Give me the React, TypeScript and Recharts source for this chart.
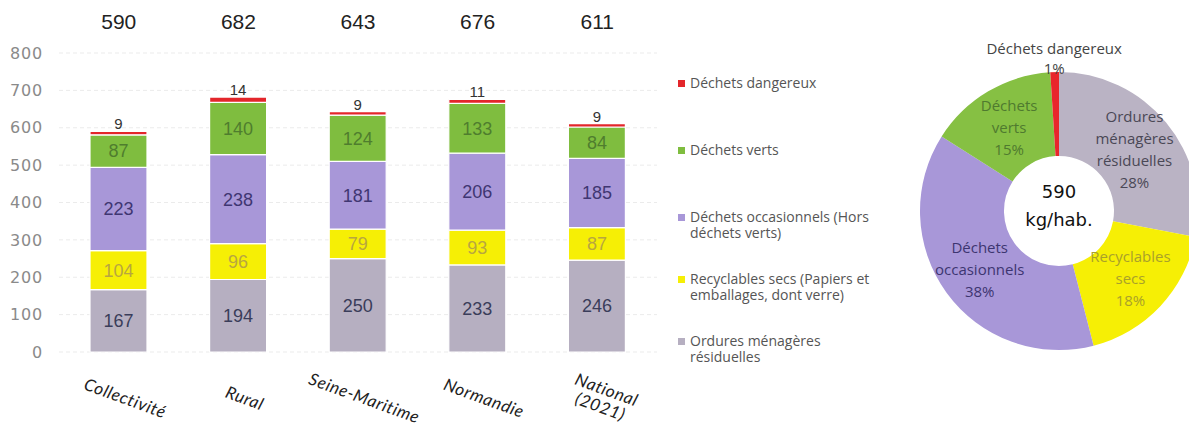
import React from "react";
import {
  BarChart,
  Bar,
  XAxis,
  YAxis,
  CartesianGrid,
  LabelList,
  Legend,
  PieChart,
  Pie,
  Cell,
} from "recharts";

// bar chart data (kg/hab.)
const categories = ["Collectivité", "Rural", "Seine-Maritime", "Normandie", "National\n(2021)"];
const omr = [167, 194, 250, 233, 246];
const recyclables = [104, 96, 79, 93, 87];
const occasionnels = [223, 238, 181, 206, 185];
const verts = [87, 140, 124, 133, 84];
const dangereux = [9, 14, 9, 11, 9];
const yTicks = [0, 100, 200, 300, 400, 500, 600, 700, 800];

// pie (Collectivité breakdown)
const pieNames = [
  "Ordures\nménagères\nrésiduelles",
  "Recyclables\nsecs",
  "Déchets\noccasionnels",
  "Déchets\nverts",
  "Déchets dangereux",
];
const pieShares = [28, 18, 38, 15, 1];
const pieCenter = ["590", "kg/hab."];

const series = [
  { key: "omr", name: "Ordures ménagères\nrésiduelles", color: "#b6afc1", text: "#3a3d5a" },
  { key: "recyclables", name: "Recyclables secs (Papiers et\nemballages, dont verre)", color: "#f6ef05", text: "#b8a640" },
  { key: "occasionnels", name: "Déchets occasionnels (Hors\ndéchets verts)", color: "#a897d8", text: "#3f3672" },
  { key: "verts", name: "Déchets verts", color: "#7fbd3f", text: "#4f7d2e" },
  { key: "dangereux", name: "Déchets dangereux", color: "#e3262b", text: "#333333" },
];

const pieColors = ["#bab3c4", "#f6ef05", "#a897d8", "#86c043", "#e8262c"];
const pieTextColors = ["#4a4856", "#a9a12a", "#3d3570", "#4f7a2f", "#444444"];

const rows = categories.map((name, i) => ({
  name,
  omr: omr[i],
  recyclables: recyclables[i],
  occasionnels: occasionnels[i],
  verts: verts[i],
  dangereux: dangereux[i],
}));
const totals = rows.map((r) => r.omr + r.recyclables + r.occasionnels + r.verts + r.dangereux);
const pieData = pieNames.map((name, i) => ({ name, value: pieShares[i] }));

const RAD = Math.PI / 180;

function CategoryTick({ x, y, payload }: any) {
  const lines = String(payload.value).split("\n");
  return (
    <g transform={`translate(${x + 6},${y + 47}) rotate(20)`}>
      <text
        textAnchor="middle"
        fontFamily="Lato, sans-serif"
        fontStyle="italic"
        fontSize={17}
        letterSpacing={0.6}
        fill="#222"
      >
        {lines.map((l, i) => (
          <tspan key={i} x={0} dy={i === 0 ? (lines.length === 1 ? 5 : -4) : 18}>
            {l}
          </tspan>
        ))}
      </text>
    </g>
  );
}

function LegendContent() {
  return (
    <div style={{ fontFamily: "'Open Sans', sans-serif", fontSize: 14, color: "#555" }}>
      {[...series].reverse().map((s) => {
        const nLines = s.name.split("\n").length;
        return (
          <div key={s.key} style={{ display: "flex", alignItems: "flex-start", marginBottom: nLines === 1 ? 51 : 30 }}>
            <span style={{ width: 7, height: 7, background: s.color, marginTop: 5, marginRight: 5, flex: "none" }} />
            <span style={{ whiteSpace: "pre-line", lineHeight: "16px" }}>{s.name}</span>
          </div>
        );
      })}
    </div>
  );
}

function renderPieLabel(props: any) {
  const { cx, cy, midAngle, innerRadius, outerRadius, index } = props;
  const lines = [...pieNames[index].split("\n"), `${pieShares[index]}%`];
  const small = pieShares[index] < 5;
  const r = small ? outerRadius + 14 : (innerRadius + outerRadius) / 2 + 1;
  const x = cx + r * Math.cos(-midAngle * RAD);
  const y = cy + r * Math.sin(-midAngle * RAD);
  const lh = small ? 20 : 22;
  const start = y - ((lines.length - 1) * lh) / 2;
  return (
    <g key={`pl-${index}`}>
      <text
        textAnchor="middle"
        dominantBaseline="central"
        fontFamily="'Open Sans', sans-serif"
        fontSize={15}
        fill={pieTextColors[index]}
      >
        {lines.map((l, i) => (
          <tspan key={i} x={x} y={start + i * lh}>
            {l}
          </tspan>
        ))}
      </text>
      {index === 0 && (
        <g fontFamily="'DejaVu Sans', sans-serif" fontSize={18} fill="#111" textAnchor="middle">
          <text x={cx} y={cy - 20} dominantBaseline="central">
            {pieCenter[0]}
          </text>
          <text x={cx} y={cy + 8} dominantBaseline="central">
            {pieCenter[1]}
          </text>
        </g>
      )}
    </g>
  );
}

export default function App() {
  return (
    <div
      style={{
        position: "absolute",
        left: 0,
        top: 0,
        width: 1189,
        height: 441,
        background: "#fff",
        overflow: "hidden",
      }}
    >
      <div style={{ position: "absolute", left: 0, top: 0 }}>
        <BarChart
          width={910}
          height={441}
          data={rows}
          margin={{ top: 0, right: 253, bottom: 0, left: 9 }}
        >
          <CartesianGrid vertical={false} stroke="#ebebeb" strokeDasharray="4 3" />
          <XAxis
            dataKey="name"
            axisLine={false}
            tickLine={false}
            tickSize={0}
            tickMargin={0}
            height={89}
            interval={0}
            tick={<CategoryTick />}
          />
          <XAxis
            xAxisId="top"
            orientation="top"
            dataKey="name"
            axisLine={false}
            tickLine={false}
            tickSize={0}
            tickMargin={24}
            height={53}
            interval={0}
            tickFormatter={(_v: any, i: number) => String(totals[i])}
            tick={{ fill: "#222", fontSize: 21, fontFamily: "'Liberation Sans', Arial, sans-serif" }}
          />
          <YAxis
            domain={[0, 800]}
            ticks={yTicks}
            width={50}
            axisLine={false}
            tickLine={false}
            tickSize={0}
            tickMargin={16}
            tick={{ fill: "#8a8a8a", fontSize: 16, letterSpacing: 0.8, fontFamily: "'DejaVu Sans', sans-serif" }}
          />
          <Legend
            layout="horizontal"
            verticalAlign="middle"
            align="center"
            wrapperStyle={{ left: 678, top: 75, width: 240 }}
            content={<LegendContent />}
          />
          {series.map((s) => (
            <Bar
              key={s.key}
              dataKey={s.key}
              name={s.name}
              stackId="a"
              fill={s.color}
              stroke="#fff"
              strokeWidth={1.2}
              barSize={57}
              isAnimationActive={false}
            >
              <LabelList
                dataKey={s.key}
                position={s.key === "dangereux" ? "top" : "center"}
                offset={2}
                fill={s.text}
                fontSize={s.key === "dangereux" ? 15 : 18}
                fontFamily="'Liberation Sans', Arial, sans-serif"
              />
            </Bar>
          ))}
        </BarChart>
      </div>
      <div style={{ position: "absolute", left: 900, top: 0 }}>
        <PieChart width={289} height={441} margin={{ top: 0, right: 0, bottom: 0, left: 0 }}>
          <Pie
            data={pieData}
            dataKey="value"
            nameKey="name"
            cx={159}
            cy={211}
            innerRadius={55}
            outerRadius={139}
            startAngle={90}
            endAngle={-270}
            stroke="none"
            labelLine={false}
            label={renderPieLabel}
            isAnimationActive={false}
          >
            {pieData.map((d, i) => (
              <Cell key={d.name} fill={pieColors[i]} />
            ))}
          </Pie>
        </PieChart>
      </div>
    </div>
  );
}
